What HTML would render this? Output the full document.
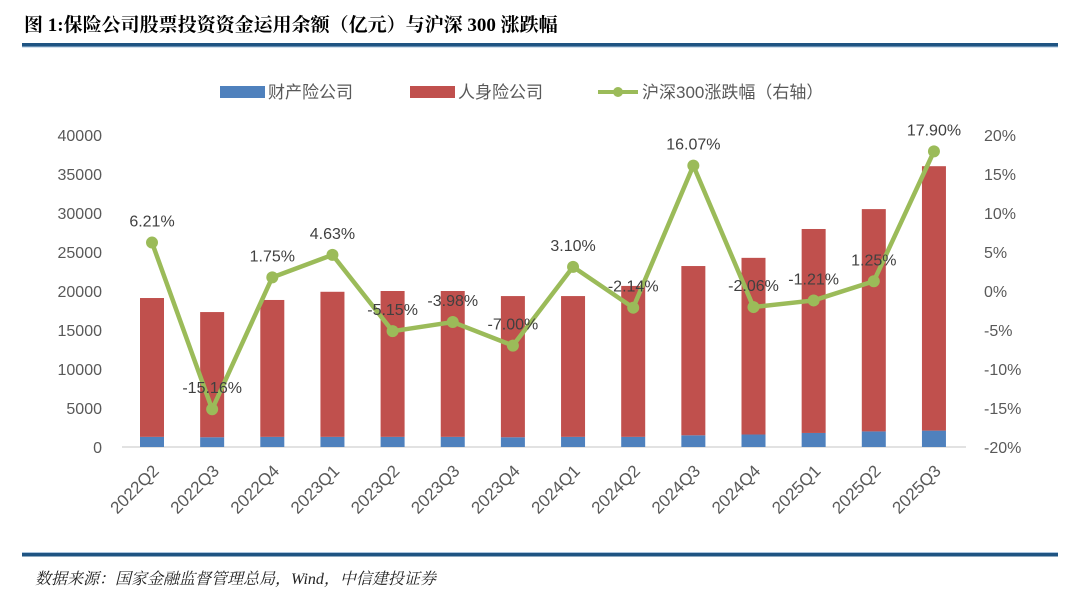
<!DOCTYPE html>
<html><head><meta charset="utf-8">
<style>
body{margin:0;width:1080px;height:599px;background:#fff;overflow:hidden;font-family:"Liberation Sans","Noto Sans CJK SC",sans-serif;}
svg text{font-family:"Liberation Sans","Noto Sans CJK SC",sans-serif;}
svg text.serif{font-family:"Liberation Serif","Noto Serif CJK SC",serif;}
</style></head><body>
<svg id="c" width="1080" height="599" xmlns="http://www.w3.org/2000/svg">
<text class="serif" x="24" y="31" font-size="19" font-weight="bold" fill="#000">图 1:保险公司股票投资资金运用余额（亿元）与沪深 300 涨跌幅</text>
<rect x="22" y="43" width="1036" height="3.5" fill="#1f5482"/>
<rect x="22" y="46.5" width="1036" height="1" fill="#a9c4de"/>
<rect x="22" y="553" width="1036" height="3.5" fill="#1f5482"/>
<rect x="22" y="552" width="1036" height="1" fill="#a9c4de"/>
<text class="serif" x="35" y="584" font-size="16" font-style="italic" fill="#222">数据来源：国家金融监督管理总局，Wind，中信建投证券</text>
<g>
<rect x="220" y="86" width="45" height="12" fill="#4f81bd"/>
<text x="268" y="98" font-size="17" fill="#595959">财产险公司</text>
<rect x="410" y="86" width="45" height="12" fill="#c0504d"/>
<text x="458" y="98" font-size="17" fill="#595959">人身险公司</text>
<line x1="598" y1="92" x2="638" y2="92" stroke="#9bbb59" stroke-width="4"/>
<circle cx="618" cy="92" r="5" fill="#9bbb59"/>
<text x="642" y="98" font-size="17" fill="#595959">沪深300涨跌幅（右轴）</text>
</g>
<g id="plot"></g>
</svg>
<script>
const categories=["2022Q2","2022Q3","2022Q4","2023Q1","2023Q2","2023Q3","2023Q4","2024Q1","2024Q2","2024Q3","2024Q4","2025Q1","2025Q2","2025Q3"];
const propertyValues=[1300,1250,1300,1300,1300,1300,1250,1300,1300,1500,1600,1800,2000,2100];
const totalValues=[19100,17300,18850,19900,20000,20000,19350,19350,20650,23200,24250,27950,30500,36000];
const lifeValues=totalValues.map((t,i)=>t-propertyValues[i]);
const csi300Change=[6.21,-15.16,1.75,4.63,-5.15,-3.98,-7.00,3.10,-2.14,16.07,-2.06,-1.21,1.25,17.90];
const leftTicks=[0,5000,10000,15000,20000,25000,30000,35000,40000];
const rightTicks=[-20,-15,-10,-5,0,5,10,15,20];
const NS="http://www.w3.org/2000/svg";
const g=document.getElementById('plot');
const y0=447,yTop=135;
const yL=v=>y0-(v/40000)*(y0-yTop);
const yR=v=>y0-((v+20)/40)*(y0-yTop);
const xC=i=>152+i*60.15;
function mk(t,a){const e=document.createElementNS(NS,t);for(const k in a)e.setAttribute(k,a[k]);g.appendChild(e);return e;}
leftTicks.forEach(v=>{const t=mk('text',{x:102,y:yL(v)+6,'text-anchor':'end','font-size':16,fill:'#595959'});t.textContent=v;

});
rightTicks.forEach(v=>{const t=mk('text',{x:984,y:yR(v)+6,'font-size':16,fill:'#595959'});t.textContent=v+'%';

});
const ax=mk('line',{x1:122,y1:y0,x2:966,y2:y0,stroke:'#d9d9d9','stroke-width':1.5});


categories.forEach((c,i)=>{
const x=xC(i);
const b1=mk('rect',{x:x-12,y:yL(propertyValues[i]),width:24,height:y0-yL(propertyValues[i]),fill:'#4f81bd'});


const b2=mk('rect',{x:x-12,y:yL(totalValues[i]),width:24,height:yL(propertyValues[i])-yL(totalValues[i]),fill:'#c0504d'});


const t=mk('text',{x:x+8,y:472,'text-anchor':'end','font-size':17,fill:'#595959',transform:`rotate(-45 ${x+8} 472)`});
t.textContent=c;


});
const pts=csi300Change.map((v,i)=>xC(i)+','+yR(v)).join(' ');
const pl=mk('polyline',{points:pts,fill:'none',stroke:'#9bbb59','stroke-width':4.5,'stroke-linejoin':'round'});


csi300Change.forEach((v,i)=>{
const c=mk('circle',{cx:xC(i),cy:yR(v),r:6,fill:'#9bbb59'});


const t=mk('text',{x:xC(i),y:yR(v)-16,'text-anchor':'middle','font-size':16,fill:'#404040'});
t.textContent=v.toFixed(2)+'%';


});
</script>
</body></html>
